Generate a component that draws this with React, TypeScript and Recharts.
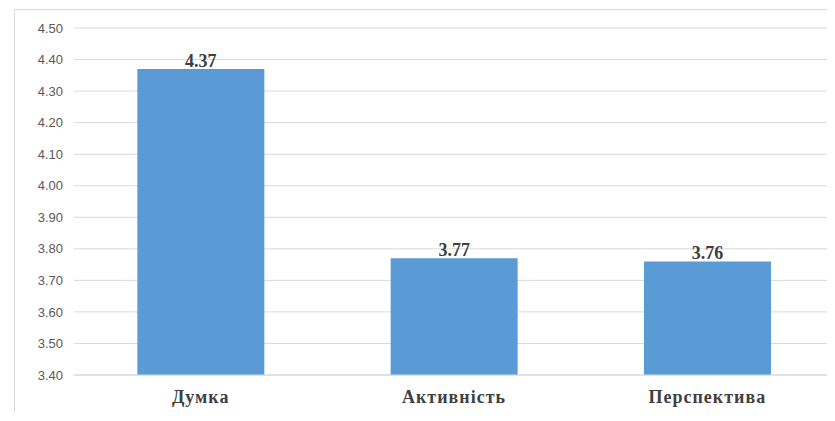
import React from "react";
import { BarChart, Bar, XAxis, YAxis, CartesianGrid, LabelList } from "recharts";

const categories = ["Думка", "Активність", "Перспектива"];
const scores = [4.37, 3.77, 3.76];
const yTicks = [3.4, 3.5, 3.6, 3.7, 3.8, 3.9, 4.0, 4.1, 4.2, 4.3, 4.4, 4.5];

const data = categories.map((name, i) => ({ name, value: scores[i] }));

const serif = "Liberation Serif, Times New Roman, DejaVu Serif, serif";

const CategoryTick = (props: any) => {
  const { x, y, payload } = props;
  return (
    <text
      x={x}
      y={y + 28}
      textAnchor="middle"
      style={{ fontFamily: serif, fontWeight: 700, fontSize: 18, letterSpacing: 1 }}
      fill="#404040"
    >
      {payload.value}
    </text>
  );
};

const App = () => {
  return (
    <div style={{ position: "relative", width: 827, height: 405, overflow: "hidden", background: "#fff" }}>
      <div
        style={{
          position: "absolute",
          left: 6,
          top: 1,
          width: 900,
          height: 600,
          border: "1px solid #d9d9d9",
        }}
      />
      <div style={{ position: "absolute", left: 0, top: 0 }}>
        <BarChart
          width={827}
          height={405}
          data={data}
          margin={{ top: 20, right: 1, bottom: 8, left: 0 }}
          barCategoryGap="25%"
        >
          <CartesianGrid vertical={false} stroke="#d9d9d9" strokeWidth={1} />
          <XAxis
            dataKey="name"
            height={30}
            axisLine={{ stroke: "#d9d9d9" }}
            tickLine={false}
            tickSize={0}
            tickMargin={0}
            tick={<CategoryTick />}
          />
          <YAxis
            width={66}
            domain={[3.4, 4.5]}
            ticks={yTicks}
            interval={0}
            axisLine={false}
            tickLine={false}
            tickSize={0}
            tickMargin={11}
            tickFormatter={(v: number) => v.toFixed(2)}
            tick={{ fontFamily: "Liberation Sans, Arial, sans-serif", fontSize: 13, fill: "#595959" }}
          />
          <Bar dataKey="value" fill="#5b9bd5" isAnimationActive={false}>
            <LabelList
              dataKey="value"
              position="top"
              offset={2}
              formatter={(v: any) => Number(v).toFixed(2)}
              fill="#404040"
              style={{ fontFamily: serif, fontWeight: 700, fontSize: 18 }}
            />
          </Bar>
        </BarChart>
      </div>
    </div>
  );
};

export default App;
